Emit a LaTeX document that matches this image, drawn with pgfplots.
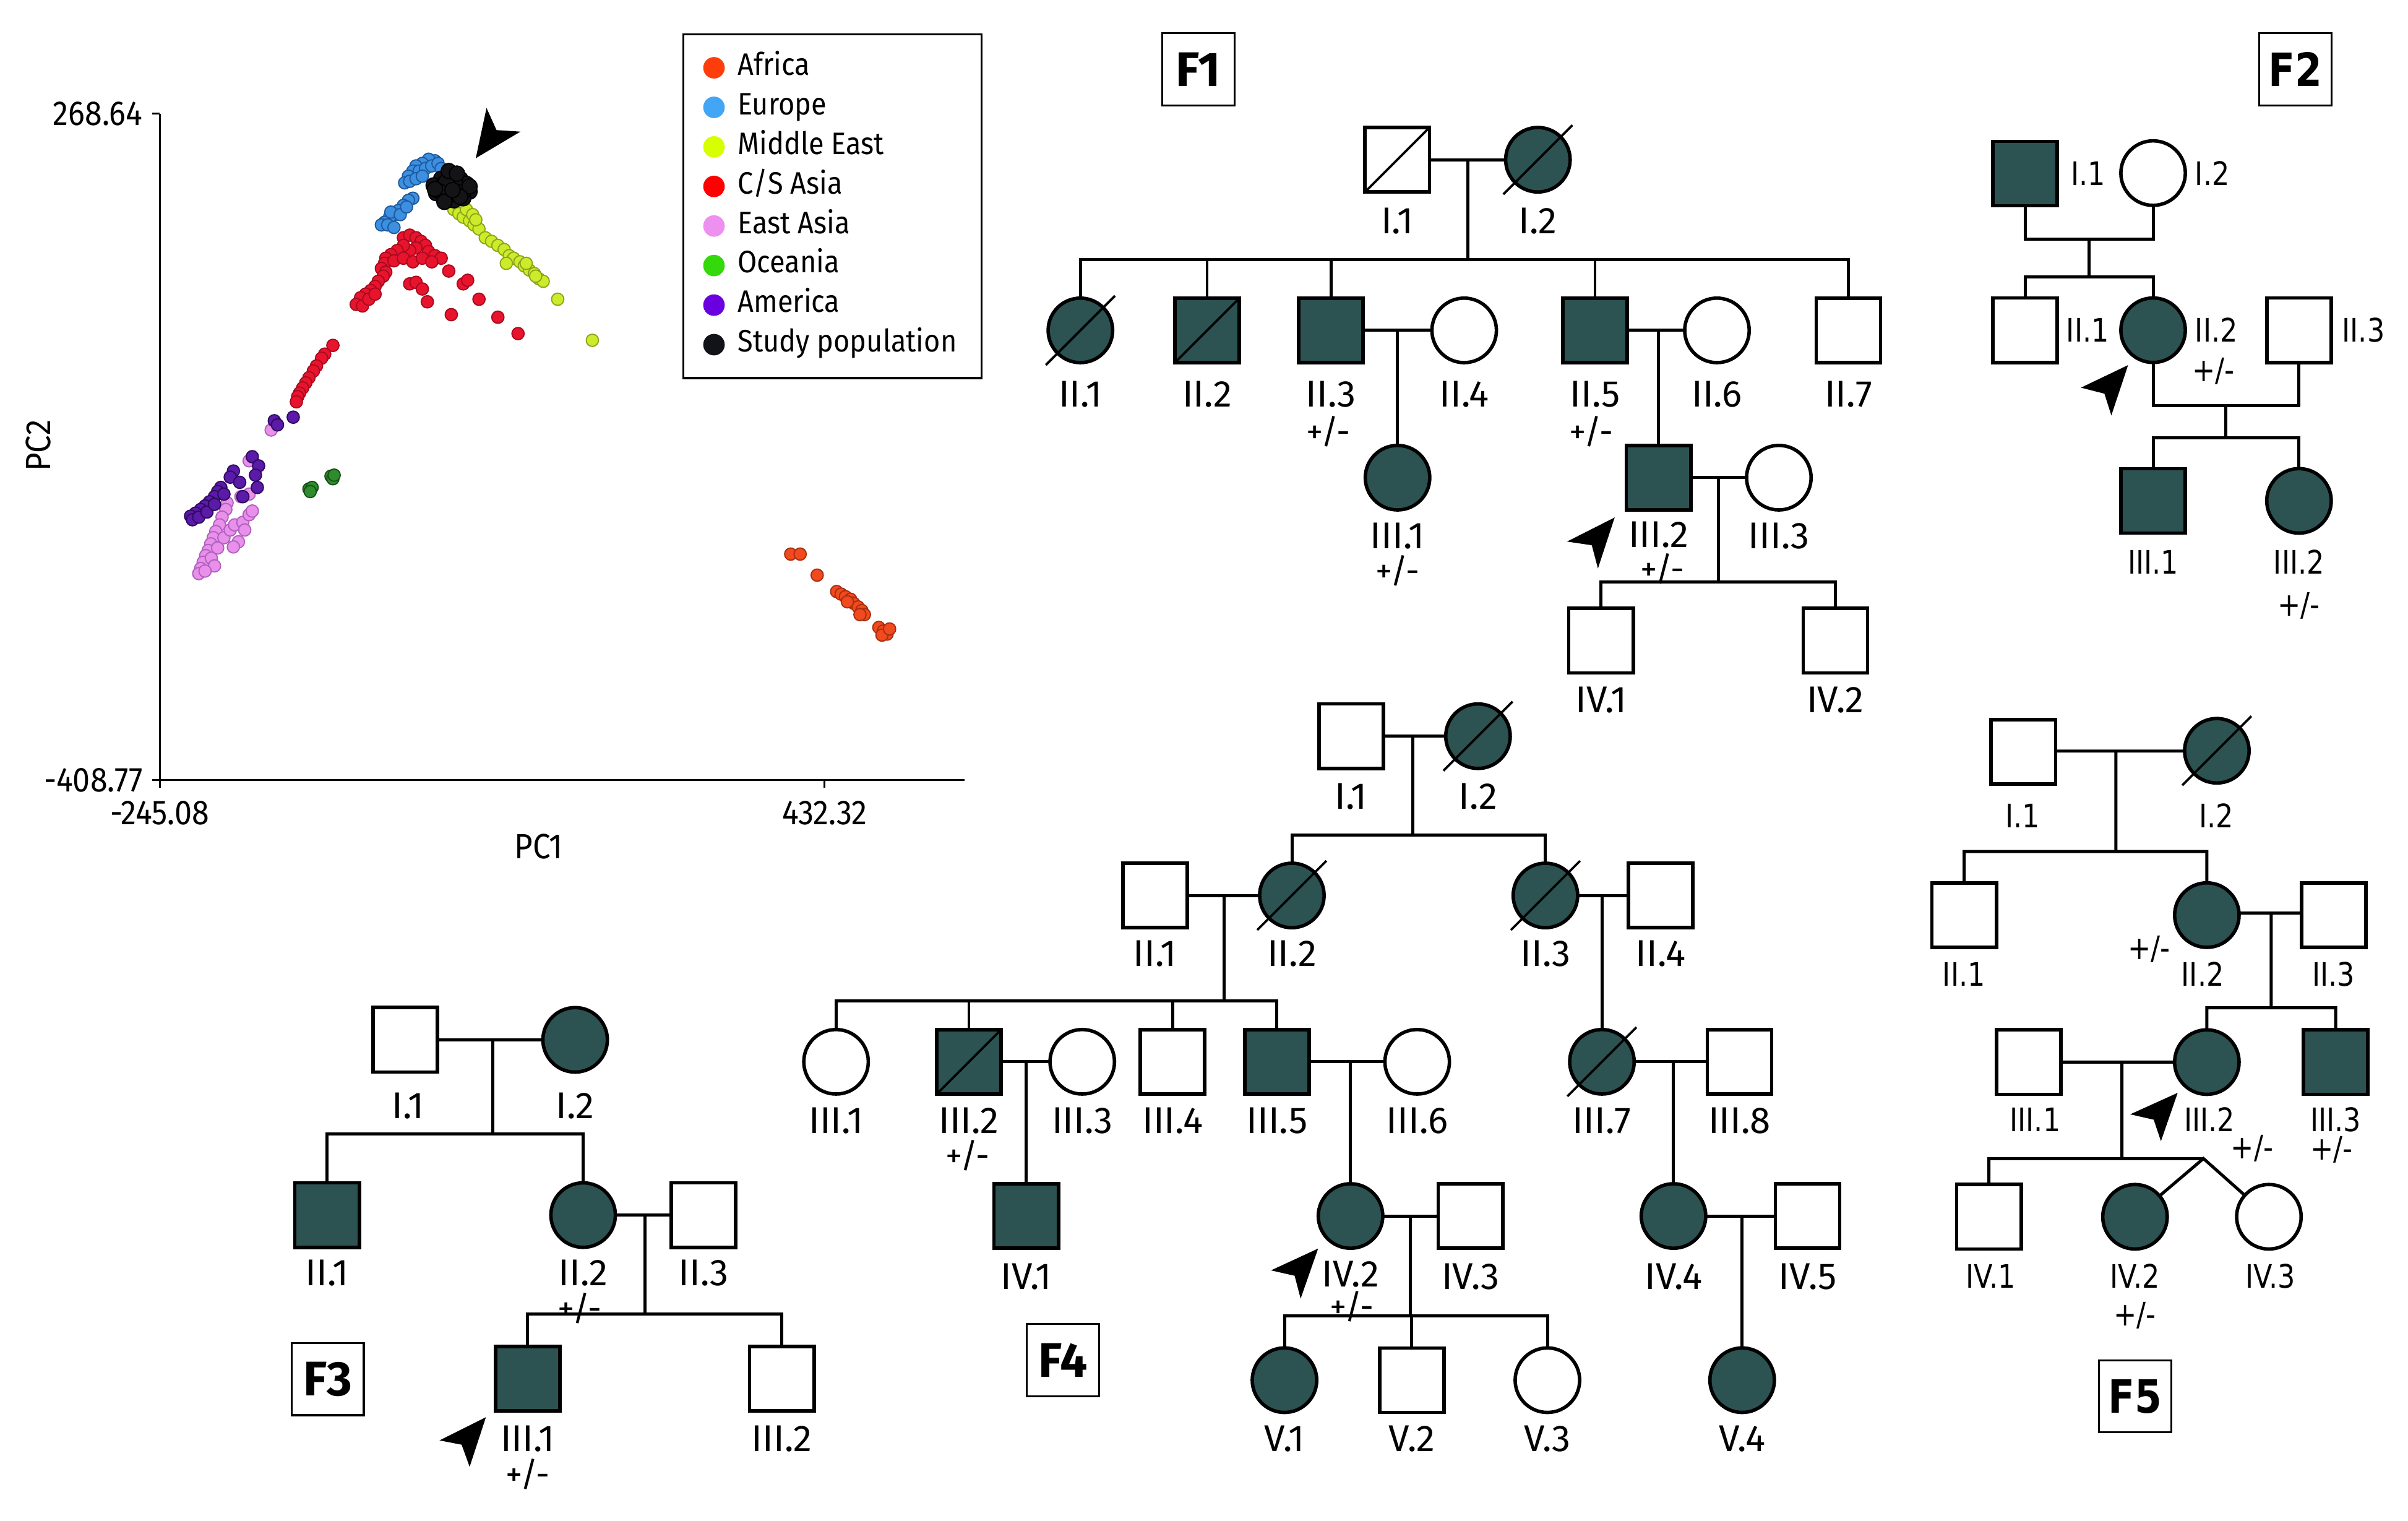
\documentclass[border=0pt]{standalone}
\usepackage{fontspec}
\setmainfont{Fira Sans}[FakeStretch=0.9]
\newfontfamily\pedfam{Fira Sans}
\newfontfamily\dejavu{DejaVu Sans}[FakeStretch=0.85]
\usepackage{pgfplots}
\pgfplotsset{compat=1.18}

\definecolor{ped}{RGB}{44,82,82}
% scatter colours (fill, edge, legend)
\definecolor{afr}{RGB}{240,74,30}   \definecolor{afrD}{RGB}{170,45,15}  \definecolor{afrL}{RGB}{255,61,10}
\definecolor{eur}{RGB}{61,143,224}  \definecolor{eurD}{RGB}{30,90,160}  \definecolor{eurL}{RGB}{66,165,245}
\definecolor{mde}{RGB}{205,235,42}  \definecolor{mdeD}{RGB}{140,165,25} \definecolor{mdeL}{RGB}{216,255,0}
\definecolor{csa}{RGB}{232,20,46}   \definecolor{csaD}{RGB}{168,10,30}  \definecolor{csaL}{RGB}{255,0,0}
\definecolor{eas}{RGB}{232,144,234} \definecolor{easD}{RGB}{176,96,192} \definecolor{easL}{RGB}{238,144,240}
\definecolor{oce}{RGB}{46,139,46}   \definecolor{oceD}{RGB}{21,80,21}   \definecolor{oceL}{RGB}{51,217,10}
\definecolor{ame}{RGB}{91,26,168}   \definecolor{ameD}{RGB}{46,10,96}   \definecolor{ameL}{RGB}{106,0,224}
\definecolor{stu}{RGB}{20,20,22}    \definecolor{stuD}{RGB}{0,0,0}      \definecolor{stuL}{RGB}{17,19,24}

\newcommand{\pedfont}{\pedfam\fontsize{13.8}{16}\selectfont}
\newcommand{\pmfont}{\pedfam\fontsize{12.5}{14}\selectfont}
\newcommand{\dvfont}{\dejavu\fontsize{12}{14}\selectfont}

\tikzset{
  lab/.style={font=\pedfont, inner sep=0pt, text height=3.35mm, text depth=0pt, anchor=center},
  pm/.style={font=\pmfont, inner sep=0pt, text height=3.0mm, text depth=0pt, anchor=center},
  dlab/.style={font=\dvfont, inner sep=0pt, text height=3.1mm, text depth=0pt, anchor=center},
  dlabw/.style={dlab, anchor=west},
  fbox/.style={draw=black, line width=0.25mm, minimum width=9.4mm, minimum height=9.4mm, inner sep=0pt,
               font=\pedfam\fontsize{18}{20}\selectfont\bfseries},
  dfbox/.style={fbox, font=\dejavu\fontsize{17}{19}\selectfont\bfseries},
}
\pgfplotsset{
  mE/.style={only marks, mark=square*, mark size=4.2mm, mark options={draw=black, fill=white, line width=0.45mm}},
  mF/.style={only marks, mark=square*, mark size=4.2mm, mark options={draw=black, fill=ped, line width=0.45mm}},
  fE/.style={only marks, mark=*, mark size=4.2mm, mark options={draw=black, fill=white, line width=0.45mm}},
  fF/.style={only marks, mark=*, mark size=4.2mm, mark options={draw=black, fill=ped, line width=0.45mm}},
  pline/.style={black, line width=0.4mm, no markers},
  slash/.style={black, line width=0.3mm, no markers},
  ahead/.style={fill=black, draw=none, no markers},
  sc/.style n args={3}{only marks, mark=*, mark size=0.8mm,
      mark options={fill=#1, draw=#2, line width=0.15mm},
      legend image code/.code={\fill[#3, draw=none] (0.14cm,0cm) circle (1.4mm);
                               \path[draw=none, fill=none] (0cm,0cm) -- (0.39cm,0cm);}},
}

\begin{document}
\begin{tikzpicture}
% ---------------- canvas for the pedigrees (pixel grid of the figure) ----------------
\begin{axis}[name=canvas, at={(0,0)}, anchor=south west, scale only axis,
  width=31.36cm, height=19.8cm, xmin=0, xmax=1568, ymin=0, ymax=990, y dir=reverse,
  axis lines=none, clip=false, clip mode=individual, unbounded coords=jump]

% connecting lines
\addplot[pline] coordinates {% F1
(909.8,104) (1001.4,104) (nan,nan)
(955.7,104) (955.7,169.1) (nan,nan)
(703.5,215.1) (703.5,169.1) (1203.6,169.1) (1203.6,215.1) (nan,nan)
(786,169.1) (786,215.1) (nan,nan)
(866.6,169.1) (866.6,215.1) (nan,nan)
(1038.6,169.1) (1038.6,215.1) (nan,nan)
(866.6,215.1) (953.4,215.1) (nan,nan)
(910,215.1) (910,311) (nan,nan)
(1038.6,215.1) (1118,215.1) (nan,nan)
(1080,215.1) (1080,311) (nan,nan)
(1080,311) (1158.3,311) (nan,nan)
(1118.8,311) (1118.8,379) (nan,nan)
(1042.5,417.1) (1042.5,379) (1195.1,379) (1195.1,417.1)
};
\addplot[pline] coordinates {% F2
(1318.6,113) (1318.6,155.6) (1402,155.6) (1402,113) (nan,nan)
(1360.1,155.6) (1360.1,180.1) (nan,nan)
(1318.6,215) (1318.6,180.1) (1402,180.1) (1402,215) (nan,nan)
(1402,215) (1402,264.1) (1497,264.1) (1497,215) (nan,nan)
(1449.5,264.1) (1449.5,285.2) (nan,nan)
(1402,326.1) (1402,285.2) (1497,285.2) (1497,326.1)
};
\addplot[pline] coordinates {% F3
(263.9,677) (374.5,677) (nan,nan)
(320.9,677) (320.9,738.4) (nan,nan)
(213,791.1) (213,738.4) (379.7,738.4) (379.7,791.1) (nan,nan)
(379.7,791.1) (458,791.1) (nan,nan)
(419.9,791.1) (419.9,855.7) (nan,nan)
(343.6,897.6) (343.6,855.7) (509.1,855.7) (509.1,897.6)
};
\addplot[pline] coordinates {% F4
(879.8,479.3) (962.4,479.3) (nan,nan)
(919.8,479.3) (919.8,543.7) (nan,nan)
(841.2,583) (841.2,543.7) (1006.3,543.7) (1006.3,583) (nan,nan)
(752.1,583) (841.2,583) (nan,nan)
(796.9,583) (796.9,651.6) (nan,nan)
(1006.3,583) (1081.3,583) (nan,nan)
(1043.1,583) (1043.1,691.3) (nan,nan)
(544.4,691.3) (544.4,651.6) (831.5,651.6) (831.5,691.3) (nan,nan)
(630.9,651.6) (630.9,691.3) (nan,nan)
(763.5,651.6) (763.5,691.3) (nan,nan)
(630.9,691.3) (704.7,691.3) (nan,nan)
(668.2,691.3) (668.2,791.7) (nan,nan)
(831.5,691.3) (922.8,691.3) (nan,nan)
(879.4,691.3) (879.4,791.7) (nan,nan)
(1043.1,691.3) (1132.7,691.3) (nan,nan)
(1089.7,691.3) (1089.7,791.7) (nan,nan)
(879.4,791.7) (957.5,791.7) (nan,nan)
(918.5,791.7) (918.5,856.8) (nan,nan)
(836.4,898.6) (836.4,856.8) (1007.6,856.8) (1007.6,898.6) (nan,nan)
(919.3,856.8) (919.3,898.6) (nan,nan)
(1089.7,791.7) (1177,791.7) (nan,nan)
(1134.4,791.7) (1134.4,898.6)
};
\addplot[pline] coordinates {% F5
(1317.5,489) (1443.5,489) (nan,nan)
(1377.8,489) (1377.8,554.4) (nan,nan)
(1279,595.8) (1279,554.4) (1437,554.4) (1437,595.8) (nan,nan)
(1437,594.5) (1519.6,594.5) (nan,nan)
(1478.9,594.5) (1478.9,656.1) (nan,nan)
(1437,691.5) (1437,656.1) (1520.9,656.1) (1520.9,691.5) (nan,nan)
(1321,691.5) (1437,691.5) (nan,nan)
(1381.7,691.5) (1381.7,754.3) (nan,nan)
(1295.1,792.2) (1295.1,754.3) (1434.8,754.3) (nan,nan)
(1390.2,792.2) (1434.8,754.3) (1477.4,792.2)
};

% symbols
\addplot[mE] coordinates {(909.8,104) (1203.6,215.1) (1042.5,417.1) (1195.1,417.1)
  (1318.6,215) (1497,215)
  (263.9,677) (458,791.1) (509.1,897.6)
  (879.8,479.3) (752.1,583) (1081.3,583) (763.5,691.3) (1132.7,691.3) (957.5,791.7) (1177,791.7) (919.3,898.6)
  (1317.5,489.5) (1279,595.8) (1519.6,595.8) (1321,691.5) (1295.1,792.2)};
\addplot[mF] coordinates {(786,215.1) (866.6,215.1) (1038.6,215.1) (1080,311)
  (1318.6,113) (1402,326.1)
  (213,791.1) (343.6,897.6)
  (630.9,691.3) (831.5,691.3) (668.2,791.7)
  (1520.9,691.5)};
\addplot[fE] coordinates {(953.4,215.1) (1118,215.1) (1158.3,311)
  (1402,112.7)
  (544.4,691.3) (704.7,691.3) (922.8,691.3) (1007.6,898.6)
  (1477.4,792.2)};
\addplot[fF] coordinates {(1001.4,104) (703.5,215.1) (910,311)
  (1402,215) (1497,326.1)
  (374.5,677) (379.7,791.1)
  (962.4,479.3) (841.2,583) (1006.3,583) (1043.1,691.3) (879.4,791.7) (1089.7,791.7) (836.4,898.6) (1134.4,898.6)
  (1443.5,488.8) (1437,595.8) (1437,691.5) (1390.2,792.2)};

% deceased slashes
\addplot[slash] coordinates {
(888.8,125) (930.8,83) (nan,nan)
(765,236.1) (807,194.1) (nan,nan)
(609.9,712.3) (651.9,670.3) (nan,nan)
(978.9,126.5) (1023.9,81.5) (nan,nan)
(681,237.6) (726,192.6) (nan,nan)
(939.9,501.8) (984.9,456.8) (nan,nan)
(818.7,605.5) (863.7,560.5) (nan,nan)
(983.8,605.5) (1028.8,560.5) (nan,nan)
(1020.6,713.8) (1065.6,668.8) (nan,nan)
(1421,511.3) (1466,466.3)
};

% proband arrowheads
\addplot[ahead] coordinates {(309.8,103.0) (316.8,70.3) (323.3,84.7) (338.9,85.7)};
\addplot[ahead] coordinates {(1051.4,336.9) (1020.4,352.6) (1036.5,355.0) (1040.5,370.1)};
\addplot[ahead] coordinates {(1385.7,237.7) (1355.0,252.4) (1370.3,256.3) (1374.8,270.5)};
\addplot[ahead] coordinates {(316.4,922.7) (286.2,937.8) (300.6,940.6) (305.8,955.0)};
\addplot[ahead] coordinates {(858.3,812.9) (827.6,827.1) (843.0,830.6) (846.9,845.5)};
\addplot[ahead] coordinates {(1418.0,711.5) (1387.1,725.5) (1402.4,729.0) (1407.1,743.0)};

% family boxes
\node[fbox] at (axis cs:780.3,45.2) {F1};
\node[dfbox] at (axis cs:1494.6,45.2) {F2};
\node[fbox] at (axis cs:213.4,897.9) {F3};
\node[fbox] at (axis cs:692.1,885.6) {F4};
\node[dfbox] at (axis cs:1390.2,909.1) {F5};

% F1 labels
\node[lab] at (axis cs:909.8,143.8) {I.1};
\node[lab] at (axis cs:1001.4,143.8) {I.2};
\node[lab] at (axis cs:703.5,256.7) {II.1};
\node[lab] at (axis cs:786,256.7) {II.2};
\node[lab] at (axis cs:866.6,256.7) {II.3};
\node[lab] at (axis cs:953.4,256.7) {II.4};
\node[lab] at (axis cs:1038.6,256.7) {II.5};
\node[lab] at (axis cs:1118,256.7) {II.6};
\node[lab] at (axis cs:1203.6,256.7) {II.7};
\node[pm] at (axis cs:865,281) {+/-};
\node[pm] at (axis cs:1036,281) {+/-};
\node[lab] at (axis cs:910,348.8) {III.1};
\node[pm] at (axis cs:910,372) {+/-};
\node[lab] at (axis cs:1080,347.8) {III.2};
\node[pm] at (axis cs:1082.4,370.5) {+/-};
\node[lab] at (axis cs:1158.3,348.8) {III.3};
\node[lab] at (axis cs:1042.5,455.7) {IV.1};
\node[lab] at (axis cs:1195.1,455.7) {IV.2};

% F2 labels
\node[dlabw] at (axis cs:1348.2,113) {I.1};
\node[dlabw] at (axis cs:1429.0,113) {I.2};
\node[dlabw] at (axis cs:1345.2,215) {II.1};
\node[dlabw] at (axis cs:1429.0,215) {II.2};
\node[dlabw] at (axis cs:1524.8,215) {II.3};
\node[dlab] at (axis cs:1441.3,240.8) {+/-};
\node[dlab] at (axis cs:1402,366.1) {III.1};
\node[dlab] at (axis cs:1497,366.1) {III.2};
\node[dlab] at (axis cs:1497,393.2) {+/-};

% F3 labels
\node[lab] at (axis cs:265.8,719.8) {I.1};
\node[lab] at (axis cs:374.5,719.8) {I.2};
\node[lab] at (axis cs:213,828.5) {II.1};
\node[lab] at (axis cs:379.7,828.5) {II.2};
\node[lab] at (axis cs:458,828.5) {II.3};
\node[pm] at (axis cs:377.3,852) {+/-};
\node[lab] at (axis cs:343.6,936.6) {III.1};
\node[pm] at (axis cs:343.6,960) {+/-};
\node[lab] at (axis cs:509.1,936.6) {III.2};

% F4 labels
\node[lab] at (axis cs:879.8,518.2) {I.1};
\node[lab] at (axis cs:962.4,518.2) {I.2};
\node[lab] at (axis cs:752.1,620.8) {II.1};
\node[lab] at (axis cs:841.2,620.8) {II.2};
\node[lab] at (axis cs:1006.3,620.8) {II.3};
\node[lab] at (axis cs:1081.3,620.8) {II.4};
\node[lab] at (axis cs:544.4,729.3) {III.1};
\node[lab] at (axis cs:630.9,729.3) {III.2};
\node[pm] at (axis cs:630,752.5) {+/-};
\node[lab] at (axis cs:704.7,729.3) {III.3};
\node[lab] at (axis cs:763.5,729.3) {III.4};
\node[lab] at (axis cs:831.5,729.3) {III.5};
\node[lab] at (axis cs:922.8,729.3) {III.6};
\node[lab] at (axis cs:1043.1,729.3) {III.7};
\node[lab] at (axis cs:1132.7,729.3) {III.8};
\node[lab] at (axis cs:668.2,831) {IV.1};
\node[lab] at (axis cs:879.4,829.5) {IV.2};
\node[pm] at (axis cs:880.3,851) {+/-};
\node[lab] at (axis cs:957.5,831) {IV.3};
\node[lab] at (axis cs:1089.7,831) {IV.4};
\node[lab] at (axis cs:1177,831) {IV.5};
\node[lab] at (axis cs:836.4,936.6) {V.1};
\node[lab] at (axis cs:919.3,936.6) {V.2};
\node[lab] at (axis cs:1007.6,936.6) {V.3};
\node[lab] at (axis cs:1134.4,936.6) {V.4};

% F5 labels
\node[dlab] at (axis cs:1316.9,530.9) {I.1};
\node[dlab] at (axis cs:1443,530.9) {I.2};
\node[dlab] at (axis cs:1278.8,634.3) {II.1};
\node[dlab] at (axis cs:1434.3,634.3) {II.2};
\node[dlab] at (axis cs:1519.6,634.3) {II.3};
\node[dlab] at (axis cs:1399.5,616.8) {+/-};
\node[dlab] at (axis cs:1325.2,729) {III.1};
\node[dlab] at (axis cs:1438.7,729) {III.2};
\node[dlab] at (axis cs:1466.5,746.6) {+/-};
\node[dlab] at (axis cs:1520.9,729) {III.3};
\node[dlab] at (axis cs:1518.1,747.6) {+/-};
\node[dlab] at (axis cs:1296.2,830.7) {IV.1};
\node[dlab] at (axis cs:1390.2,830.7) {IV.2};
\node[dlab] at (axis cs:1390.2,855.3) {+/-};
\node[dlab] at (axis cs:1478.5,830.7) {IV.3};
\end{axis}
\path (canvas.south west) rectangle (canvas.north east);

% ---------------- PCA scatter ----------------
\begin{axis}[at={(2.08cm,9.64cm)}, anchor=south west, scale only axis,
  width=10.48cm, height=8.68cm,
  xmin=-245.08, xmax=574.7, ymin=-408.77, ymax=268.64,
  axis x line*=bottom, axis y line*=left,
  axis line style={line width=0.25mm, black},
  xtick={-245.08,432.32}, xticklabels={-245.08,432.32},
  ytick={-408.77,268.64}, yticklabels={-408.77,268.64},
  tick align=outside, major tick length=1mm, tick style={line width=0.25mm, black},
  ticklabel style={font=\fontsize{12.8}{14}\selectfont},
  xticklabel style={yshift=-0.5mm},
  xlabel={PC1}, ylabel={PC2},
  xlabel style={at={(axis description cs:0.471,-0.099)}, anchor=center, font=\fontsize{13}{15}\selectfont},
  ylabel style={at={(axis description cs:-0.151,0.502)}, anchor=center, font=\fontsize{13}{15}\selectfont},
  clip=false,
  legend style={at={(axis description cs:0.6494,1.1203)}, anchor=north west, draw=black, line width=0.25mm,
    font=\fontsize{11.5}{13}\selectfont, inner xsep=2.6mm, inner ysep=1.9mm, row sep=0.25mm,
    nodes={inner sep=0.6mm, text height=2.8mm, text depth=0.9mm}, cells={anchor=west}},
]
\addplot[sc={afr}{afrD}{afrL}] coordinates {
(397.70,-178.98) (407.33,-178.98) (424.65,-200.35) (444.53,-217.03) (449.02,-219.63) (453.51,-222.24)
(458.65,-224.84) (461.85,-229.01) (466.34,-232.66) (470.19,-236.31) (472.76,-240.47) (468.27,-240.47)
(455.44,-227.45) (487.51,-253.50) (492.00,-257.15) (495.85,-260.28) (490.72,-261.32) (498.42,-255.07)};
\addplot[sc={eur}{eurD}{eurL}] coordinates {
(35.26,220.70) (28.84,222.26) (22.43,218.09) (16.01,215.49) (12.80,210.28) (8.31,205.07) (4.46,198.29)
(9.60,199.85) (19.22,210.28) (25.63,212.88) (32.05,215.49) (38.46,218.09) (41.67,212.88) (16.01,202.46)
(22.43,205.07) (12.80,182.66) (8.31,180.57) (3.18,175.36) (-1.95,170.15) (-6.44,165.98) (-10.93,163.38)
(-16.06,158.17) (-19.27,155.56) (-12.86,155.56) (-6.44,152.96) (-9.65,168.59) (-0.03,165.98) (6.39,173.80)};
\addplot[sc={mde}{mdeD}{mdeL}] coordinates {
(54.50,171.19) (59.63,167.03) (64.12,163.38) (70.54,159.73) (75.03,155.56) (80.16,151.39) (67.33,171.19)
(73.75,165.98) (76.95,160.77) (86.58,142.53) (92.99,138.89) (99.41,134.72) (105.82,130.55) (110.95,124.30)
(115.44,121.69) (121.86,118.04) (126.35,113.87) (131.48,109.70) (136.61,106.06) (141.10,100.85)
(145.59,98.24) (137.90,103.45) (128.27,116.48) (108.00,116.48) (160.35,80.00) (195.63,38.31)};
\addplot[sc={csa}{csaD}{csaL}] coordinates {
(3.18,142.53) (9.60,145.14) (16.01,142.53) (21.14,138.89) (25.63,134.72) (28.84,128.46) (35.26,124.30)
(41.67,121.69) (16.01,132.11) (9.60,129.51) (3.18,134.72) (-3.23,129.51) (-9.65,125.34) (-14.78,121.69)
(-16.06,116.48) (-19.27,111.27) (-14.78,107.62) (-17.35,103.45) (-22.48,98.24) (-25.69,93.03)
(-30.18,88.86) (-35.31,85.21) (-40.44,81.57) (-44.93,74.79) (-38.52,73.23) (-32.10,80.00) (-25.69,85.21)
(-6.44,119.08) (3.18,121.69) (12.80,118.04) (22.43,121.69) (32.05,118.04)
(9.60,95.63) (16.01,97.20) (22.43,90.42) (27.56,77.40) (49.37,108.66) (64.12,95.63) (68.61,99.28)
(80.16,80.00) (51.93,64.37) (99.41,61.76) (119.93,45.09)
(-68.67,33.10) (-77.01,24.24) (-80.21,20.08) (-85.35,12.26) (-88.55,7.05) (-93.04,0.27) (-96.25,-4.94)
(-99.46,-10.15) (-102.67,-15.36) (-104.59,-19.01) (-105.87,-24.22)};
\addplot[sc={eas}{easD}{easL}] coordinates {
(-131.53,-52.88) (-153.99,-84.14) (-176.44,-126.87) (-177.72,-133.65) (-181.57,-141.47) (-184.14,-149.28)
(-187.99,-156.06) (-190.55,-162.31) (-193.12,-168.56) (-195.68,-175.34) (-198.25,-180.55) (-200.82,-187.32)
(-203.38,-193.58) (-205.31,-198.79) (-192.48,-183.15) (-186.06,-172.73) (-179.65,-162.31) (-173.23,-154.49)
(-168.74,-149.28) (-160.40,-146.68) (-153.99,-138.86) (-150.78,-135.21) (-158.48,-154.49) (-164.89,-166.48)
(-170.02,-171.69) (-153.99,-118.02) (-162.33,-120.62) (-189.27,-190.97) (-198.89,-196.18)};
\addplot[sc={oce}{oceD}{oceL}] coordinates {
(-93.04,-112.81) (-89.84,-111.24) (-91.76,-115.41) (-70.59,-99.78) (-68.67,-102.38) (-67.38,-98.74)};
\addplot[sc={ame}{ameD}{ameL}] coordinates {
(-128.33,-43.50) (-125.12,-47.67) (-109.08,-39.85) (-150.78,-79.98) (-144.36,-89.35) (-147.57,-98.74)
(-170.02,-94.57) (-173.23,-100.82) (-163.61,-106.03) (-145.65,-111.24) (-160.40,-120.62) (-182.85,-111.24)
(-186.06,-115.41) (-189.27,-120.62) (-194.40,-125.83) (-198.89,-130.00) (-203.38,-133.65) (-208.51,-137.30)
(-213.65,-140.42) (-211.72,-144.07) (-205.31,-141.47) (-196.97,-136.25) (-189.27,-128.44) (-179.65,-118.02)};
\addplot[sc={stu}{stuD}{stuL}, mark size=1.0mm] coordinates {
(41.67,202.46) (51.29,205.07) (60.92,202.46) (67.33,197.25) (70.54,189.43) (64.12,182.66) (54.50,180.57)
(44.88,182.66) (36.54,187.87) (33.97,195.69) (41.67,194.64) (51.29,194.64) (59.63,192.04) (51.29,186.83)
(55.78,198.29) (46.80,199.85) (64.12,189.43) (40.39,189.43) (49.37,210.28) (57.71,207.67) (70.54,194.64)
(35.26,192.04) (44.88,179.01) (60.92,184.22) (53.22,191.00)};
\legend{Africa, Europe, Middle East, C/S Asia, East Asia, Oceania, America, Study population}
\end{axis}
\end{tikzpicture}
\end{document}
